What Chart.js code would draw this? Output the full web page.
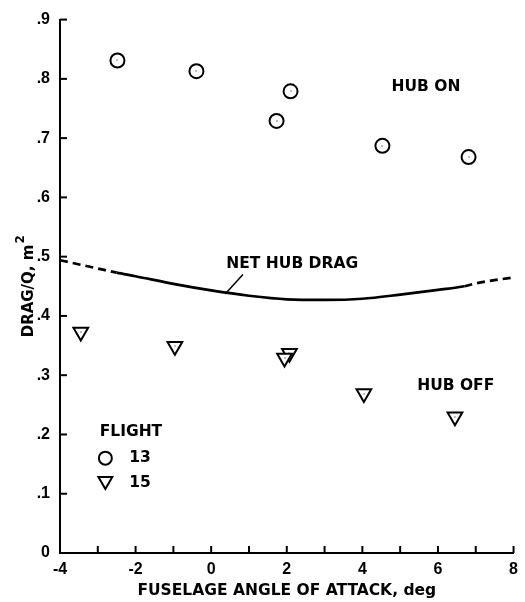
<!DOCTYPE html>
<html>
<head>
<meta charset="utf-8">
<script src="https://cdn.jsdelivr.net/npm/chart.js@4"></script>
<style>
html,body{margin:0;padding:0;background:#fff;}
#wrap{position:relative;width:525px;height:602px;}
</style>
</head>
<body>
<div id="wrap"><canvas id="c" width="525" height="602"></canvas></div>
<script>
// ---- data ----
const flight13X = [-2.48, -0.39, 1.73, 2.10, 4.53, 6.81];
const flight13Y = [0.831, 0.813, 0.729, 0.779, 0.687, 0.668];
const flight15X = [-3.45, -0.96, 2.07, 1.94, 4.04, 6.45];
const flight15Y = [0.373, 0.349, 0.337, 0.329, 0.269, 0.230];
const netHubX = [-4, -3, -2.5, -2, -1, 0, 1, 2, 3, 4, 5, 6, 6.7, 7, 8];
const netHubY = [0.494, 0.480, 0.473, 0.467, 0.454, 0.443, 0.434, 0.428, 0.427, 0.429, 0.436, 0.444, 0.450, 0.455, 0.465];
const xTickValues = [-4, -3, -2, -1, 0, 1, 2, 3, 4, 5, 6, 7, 8];
const yTickValues = [0, 0.1, 0.2, 0.3, 0.4, 0.5, 0.6, 0.7, 0.8, 0.9];
const xTitle = 'FUSELAGE ANGLE OF ATTACK, deg';
const yTitleMain = 'DRAG/Q, m';
const yTitleSup = '2';
const legendTitle = 'FLIGHT';
const legendLabels = ['13', '15'];
const notes = [
  {text: 'HUB ON', x: 4.77, y: 0.786},
  {text: 'HUB OFF', x: 5.45, y: 0.282},
  {text: 'NET HUB DRAG', x: 0.40, y: 0.487}
];
const leader = {x0: 0.84, y0: 0.470, x1: 0.37, y1: 0.437};
const legendPos = {x: -2.95, y: 0.205, markX: -2.80, textX: -2.17, y13: 0.160, y15: 0.118};

const FONT = '"Liberation Sans", Arial, Helvetica, sans-serif';
const TFONT = '"DejaVu Sans", Verdana, sans-serif';
const toPts = (xs, ys) => xs.map((x, i) => ({x: x, y: ys[i]}));

const dashedRanges = (ctx) => {
  const x0 = ctx.p0.parsed.x;
  return (x0 < -2.5 || x0 >= 6.7) ? [8, 5] : undefined;
};

function drawTri(ctx, x, y, r) {
  ctx.beginPath();
  ctx.moveTo(x - r * Math.sqrt(3) / 2, y - r / 2);
  ctx.lineTo(x + r * Math.sqrt(3) / 2, y - r / 2);
  ctx.lineTo(x, y + r);
  ctx.closePath();
  ctx.fillStyle = '#fff';
  ctx.fill();
  ctx.stroke();
}

const decor = {
  id: 'decor',
  afterDraw(chart) {
    const ctx = chart.ctx;
    const xs = chart.scales.x, ys = chart.scales.y;
    const area = chart.chartArea;
    ctx.save();
    ctx.strokeStyle = '#000';
    ctx.fillStyle = '#000';
    ctx.lineWidth = 2;
    // inward tick marks
    xTickValues.forEach(v => {
      const px = xs.getPixelForValue(v);
      ctx.beginPath();
      ctx.moveTo(px, area.bottom);
      ctx.lineTo(px, area.bottom - 7);
      ctx.stroke();
    });
    yTickValues.forEach(v => {
      const py = ys.getPixelForValue(v);
      ctx.beginPath();
      ctx.moveTo(area.left, py);
      ctx.lineTo(area.left + 7, py);
      ctx.stroke();
    });
    // tiny centre dots in markers
    [1, 2].forEach(di => {
      chart.getDatasetMeta(di).data.forEach(el => {
        ctx.fillRect(Math.round(el.x) - 0.5, Math.round(el.y) - 0.5, 1, 1);
      });
    });
    // y title (rotated) with superscript
    ctx.save();
    ctx.translate(29, (area.top + area.bottom) / 2);
    ctx.rotate(-Math.PI / 2);
    ctx.font = 'bold 15px ' + TFONT;
    ctx.textBaseline = 'middle';
    const wMain = ctx.measureText(yTitleMain).width;
    ctx.font = 'bold 12px ' + TFONT;
    const wSup = ctx.measureText(yTitleSup).width;
    const start = -(wMain + wSup + 1) / 2;
    ctx.font = 'bold 15px ' + TFONT;
    ctx.textAlign = 'left';
    ctx.fillText(yTitleMain, start, 0);
    ctx.font = 'bold 12px ' + TFONT;
    ctx.fillText(yTitleSup, start + wMain + 1, -8);
    ctx.restore();
    // annotations
    ctx.font = 'bold 15.5px ' + TFONT;
    ctx.textBaseline = 'middle';
    ctx.textAlign = 'left';
    notes.forEach(n => {
      ctx.fillText(n.text, xs.getPixelForValue(n.x), ys.getPixelForValue(n.y));
    });
    ctx.lineWidth = 1.5;
    ctx.beginPath();
    ctx.moveTo(xs.getPixelForValue(leader.x0), ys.getPixelForValue(leader.y0));
    ctx.lineTo(xs.getPixelForValue(leader.x1), ys.getPixelForValue(leader.y1));
    ctx.stroke();
    // legend
    ctx.fillText(legendTitle, xs.getPixelForValue(legendPos.x), ys.getPixelForValue(legendPos.y));
    const mx = xs.getPixelForValue(legendPos.markX);
    const y13 = ys.getPixelForValue(legendPos.y13);
    const y15 = ys.getPixelForValue(legendPos.y15);
    ctx.lineWidth = 2;
    ctx.beginPath();
    ctx.arc(mx, y13, 6.5, 0, Math.PI * 2);
    ctx.stroke();
    drawTri(ctx, mx, y15 - 2, 8);
    ctx.fillStyle = '#000';
    ctx.fillText(legendLabels[0], xs.getPixelForValue(legendPos.textX), y13);
    ctx.fillText(legendLabels[1], xs.getPixelForValue(legendPos.textX), y15);
    ctx.restore();
  }
};

new Chart(document.getElementById('c'), {
  type: 'scatter',
  data: {
    datasets: [
      {
        label: 'Net hub drag',
        type: 'line',
        data: toPts(netHubX, netHubY),
        borderColor: '#000',
        borderWidth: 2.7,
        pointRadius: 0,
        cubicInterpolationMode: 'monotone',
        fill: false,
        segment: {borderDash: dashedRanges}
      },
      {
        label: '13',
        data: toPts(flight13X, flight13Y),
        pointStyle: 'circle',
        pointRadius: 7,
        pointBorderWidth: 2,
        pointBorderColor: '#000',
        pointBackgroundColor: '#fff'
      },
      {
        label: '15',
        data: toPts(flight15X, flight15Y),
        pointStyle: 'triangle',
        rotation: 180,
        pointRadius: 8.5,
        pointBorderWidth: 2,
        pointBorderColor: '#000',
        pointBackgroundColor: '#fff'
      }
    ]
  },
  options: {
    responsive: false,
    animation: false,
    devicePixelRatio: 1,
    layout: {padding: {left: 0, top: 17, right: 7, bottom: 0}},
    plugins: {legend: {display: false}, tooltip: {enabled: false}},
    scales: {
      x: {
        type: 'linear',
        min: -4, max: 8,
        afterFit: s => { s.height = 49; },
        border: {display: true, color: '#000', width: 2},
        grid: {display: false, drawTicks: false},
        ticks: {
          stepSize: 1,
          autoSkip: false,
          maxRotation: 0,
          padding: 7,
          color: '#000',
          font: {family: FONT, size: 16, weight: 'bold'},
          callback: v => (v % 2 === 0 ? String(v) : '')
        },
        title: {
          display: true,
          text: xTitle,
          color: '#000',
          font: {family: TFONT, size: 15.5, weight: 'bold'},
          padding: {top: 0, bottom: 2}
        }
      },
      y: {
        min: 0, max: 0.9,
        afterFit: s => { s.width = 60; },
        border: {display: true, color: '#000', width: 2},
        grid: {display: false, drawTicks: false},
        ticks: {
          stepSize: 0.1,
          padding: 10,
          color: '#000',
          font: {family: FONT, size: 16, weight: 'bold'},
          callback: v => (Math.abs(v) < 1e-9 ? '0' : v.toFixed(1).replace(/^0/, ''))
        }
      }
    }
  },
  plugins: [decor]
});
</script>
</body>
</html>
